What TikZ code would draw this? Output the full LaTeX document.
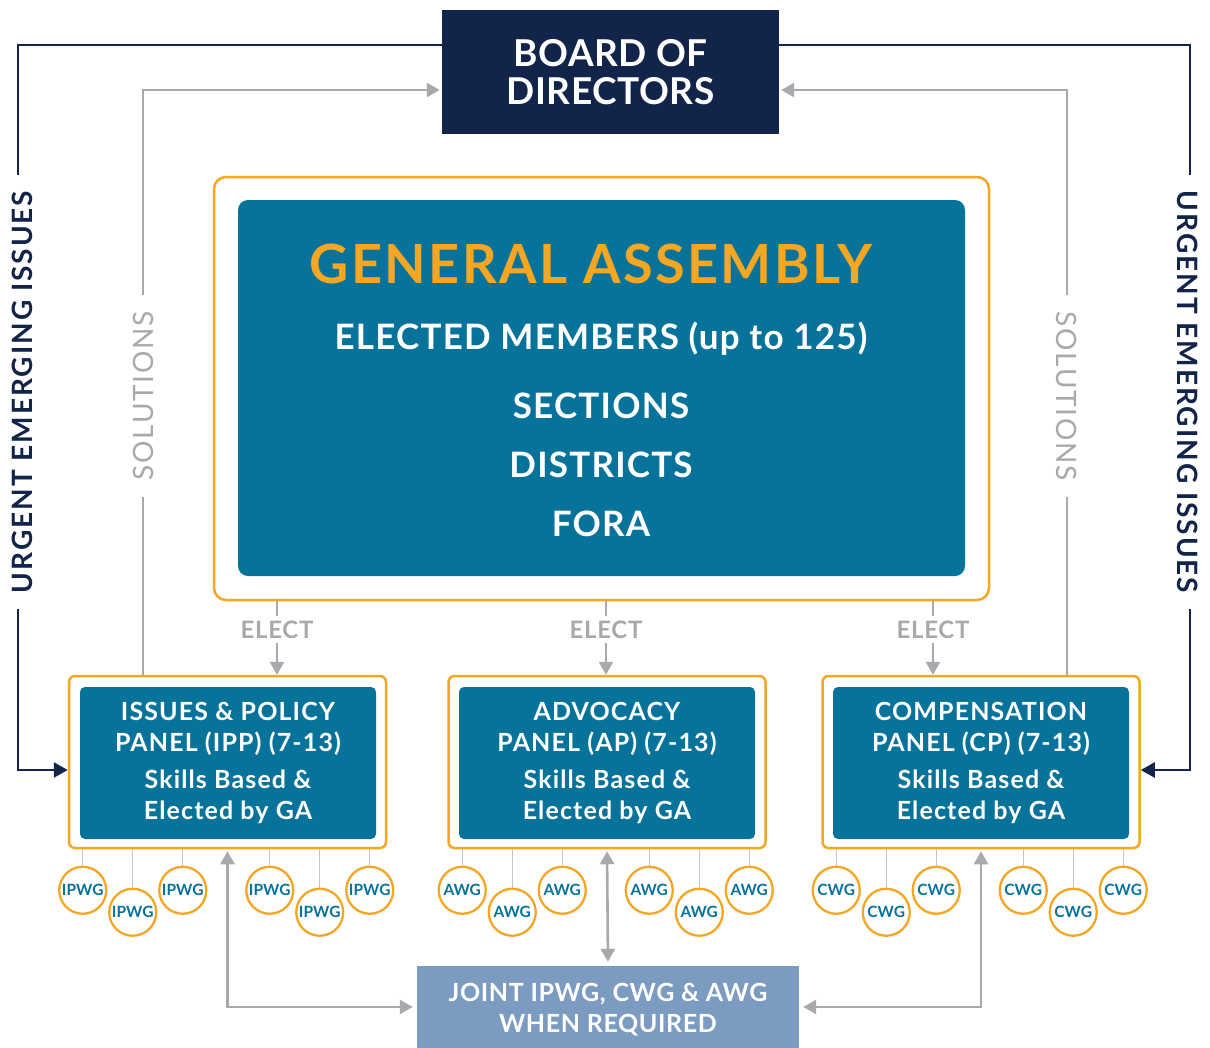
\documentclass[tikz,border=0pt]{standalone}
\usepackage{fontspec}
\setmainfont{Lato}
\usetikzlibrary{arrows.meta,calc}

\definecolor{navy}{HTML}{13244A}
\definecolor{gaTeal}{HTML}{08739A}
\definecolor{gaOrange}{HTML}{F5A623}
\definecolor{lineGray}{HTML}{A7A9AC}
\definecolor{stemGray}{HTML}{C2C4C6}
\definecolor{jointBlue}{HTML}{7B9BC1}

\tikzset{
  boardbox/.style={fill=navy, text=white, minimum width=337pt, minimum height=124pt,
    inner sep=0pt, align=center,
    font=\bfseries\fontsize{37}{38}\selectfont\addfontfeature{LetterSpace=1.5}},
  gaframe/.style={draw=gaOrange, line width=2.5pt, rounded corners=12pt, fill=white,
    minimum width=775pt, minimum height=423pt, inner sep=0pt},
  gabox/.style={fill=gaTeal, rounded corners=10pt, minimum width=727pt,
    minimum height=376pt, inner sep=0pt},
  gatext/.style={text=white, anchor=base, inner sep=0pt,
    font=\bfseries\fontsize{35}{35}\selectfont\addfontfeature{LetterSpace=3.5}},
  panelframe/.style={draw=gaOrange, line width=2.5pt, rounded corners=6pt, fill=white,
    minimum width=317pt, minimum height=172pt, inner sep=0pt},
  panelbox/.style={fill=gaTeal, rounded corners=5pt, minimum width=296pt,
    minimum height=152pt, text=white, align=center, inner sep=0pt,
    font=\bfseries\fontsize{25}{31}\selectfont\addfontfeature{LetterSpace=4.5}},
  wg/.style={circle, draw=gaOrange, line width=2.3pt, fill=white, minimum size=47pt,
    inner sep=0pt, text=gaTeal, font=\bfseries\fontsize{15.5}{15.5}\selectfont},
  stem/.style={draw=stemGray, line width=1.3pt},
  electlabel/.style={text=lineGray, inner sep=0pt, anchor=base,
    font=\bfseries\fontsize{24}{24}\selectfont\addfontfeature{LetterSpace=3}},
  grayline/.style={draw=lineGray, line width=2.6pt},
  grayarrow/.style={grayline, -{Triangle[length=13pt,width=14pt]}},
  twoway/.style={grayline, {Triangle[length=13pt,width=14pt]}-{Triangle[length=13pt,width=14pt]},
    shorten <=2pt, shorten >=4pt},
  navyline/.style={draw=navy, line width=2.5pt},
  navyarrow/.style={navyline, -{Triangle[length=14pt,width=15pt]}},
  urgentlabel/.style={text=navy, inner ysep=0pt, inner xsep=16pt,
    font=\bfseries\fontsize{28}{28}\selectfont\addfontfeature{LetterSpace=7}},
  sollabel/.style={text=lineGray, inner ysep=0pt, inner xsep=16pt,
    font=\fontsize{28}{28}\selectfont\addfontfeature{LetterSpace=6}},
  jointbox/.style={fill=jointBlue, minimum width=382pt, minimum height=82pt, inner sep=0pt},
  jointtext/.style={text=white, align=center, inner sep=0pt,
    font=\bfseries\fontsize{25}{31}\selectfont\addfontfeature{LetterSpace=2.5}},
}

% six working-group circles hanging below a panel frame
\newcommand\wgrow[3]{%
  \foreach \dx/\lo [count=\i] in {15/0,65/1,115/0,202/0,252/1,302/0} {
    \node[wg] (#3\i) at ($(#1.south west)+(\dx,41+22*\lo)$) {#2};
    \draw[stem] (#1.south west -| #3\i) -- (#3\i.north);
  }%
}

\begin{document}
\begin{tikzpicture}[x=1pt,y=-1pt]
\useasboundingbox (0,0) rectangle (1210,1047);

% Board of Directors
\node[boardbox] (board) at (610.5,72) {BOARD OF\\DIRECTORS};

% General Assembly
\node[gaframe] (gao) at (601.5,388.5) {};
\node[gabox] (ga) at (601.5,388) {};
\node[text=gaOrange, anchor=base, inner sep=0pt,
  font=\bfseries\fontsize{54}{54}\selectfont\addfontfeature{LetterSpace=4.5}]
  (gatitle) at (591,283) {GENERAL ASSEMBLY};
\node[gatext] (gamem) at (601,349) {ELECTED MEMBERS (up to 125)};
\node[gatext] (gasec) at (601,418) {SECTIONS};
\node[gatext] (gadis) at (601,477) {DISTRICTS};
\node[gatext] (gafor) at (601,536) {FORA};

% Panels
\node[panelframe] (ippo) at (227.5,762) {};
\node[panelbox] (ipp) at (228,763) {ISSUES \& POLICY\\PANEL (IPP) (7-13)\\[6pt]Skills Based \&\\Elected by GA};
\node[panelframe] (apo) at (607,762) {};
\node[panelbox] (ap) at (607,763) {ADVOCACY\\PANEL (AP) (7-13)\\[6pt]Skills Based \&\\Elected by GA};
\node[panelframe] (cpo) at (981,762) {};
\node[panelbox] (cp) at (981,763) {COMPENSATION\\PANEL (CP) (7-13)\\[6pt]Skills Based \&\\Elected by GA};

% Joint working groups
\node[jointbox] (joint) at (608,1007) {};
\node[jointtext] (jointlabel) at (608,1010) {JOINT IPWG, CWG \& AWG\\WHEN REQUIRED};

% ELECT connectors from the assembly to each panel
\foreach \p/\ex [count=\k] in {ippo/277,apo/606,cpo/933} {
  \node[electlabel] (elect\k) at (\ex,638) {ELECT};
  \draw[grayline] (gao.south -| elect\k) -- ++(0,15);
  \draw[grayarrow] ([yshift=-5pt]elect\k.base) -- (\p.north -| elect\k);
}

% Working-group circles
\wgrow{ippo}{IPWG}{ipwg}
\wgrow{apo}{AWG}{awg}
\wgrow{cpo}{CWG}{cwg}

% Panels <-> joint working groups
\draw[twoway] (ippo.south) |- (joint.west);
\draw[twoway] (apo.south) -- (joint.north);
\draw[twoway] (cpo.south) |- (joint.east);

% Solutions back to the board
\node[sollabel, rotate=90] (solL) at (143,396) {SOLUTIONS};
\node[sollabel, rotate=-90] (solR) at (1067,396) {SOLUTIONS};
\coordinate (solLtop) at (143,90);
\coordinate (solRtop) at (1067,90);
\draw[grayline] (ippo.north -| solL) -- (solL.west);
\draw[grayarrow, shorten >=2pt] (solL.east) -- (solLtop) -- (board.west |- solLtop);
\draw[grayline] (cpo.north -| solR) -- (solR.east);
\draw[grayarrow, shorten >=2pt] (solR.west) -- (solRtop) -- (board.east |- solRtop);

% Urgent emerging issues from the board
\node[urgentlabel, rotate=90] (urgL) at (22,392) {URGENT EMERGING ISSUES};
\node[urgentlabel, rotate=-90] (urgR) at (1188,392) {URGENT EMERGING ISSUES};
\coordinate (urgLtop) at (18,45);
\coordinate (urgRtop) at (1190,45);
\coordinate (urgLbot) at (18,770);
\coordinate (urgRbot) at (1190,770);
\draw[navyline] (board.west |- urgLtop) -- (urgLtop) -- (urgLtop |- urgL.east);
\draw[navyarrow] (urgLbot |- urgL.west) -- (urgLbot) -- (ippo.west |- urgLbot);
\draw[navyline] (board.east |- urgRtop) -- (urgRtop) -- (urgRtop |- urgR.west);
\draw[navyarrow] (urgRbot |- urgR.east) -- (urgRbot) -- (cpo.east |- urgRbot);
\end{tikzpicture}
\end{document}
